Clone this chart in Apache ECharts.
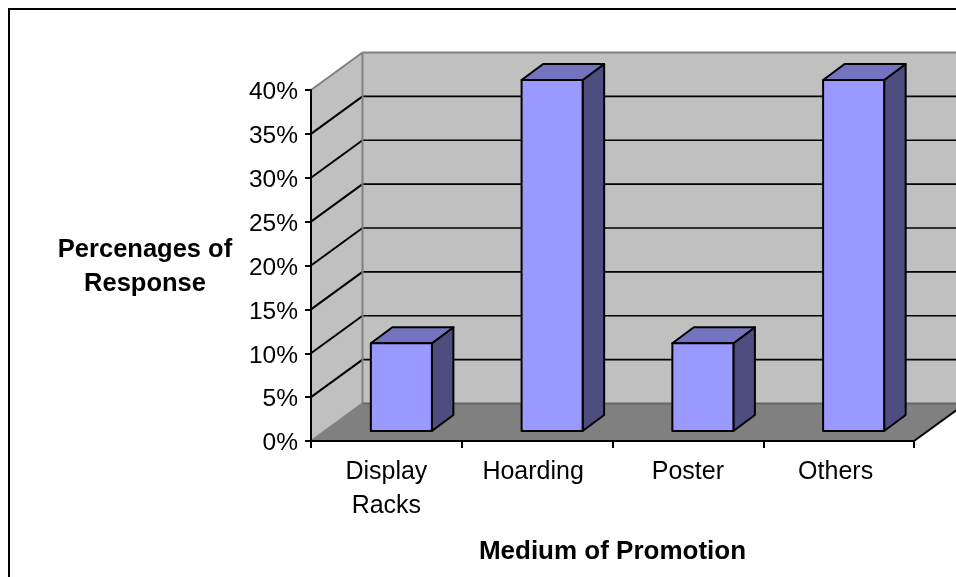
<!DOCTYPE html>
<html>
<head>
<meta charset="utf-8">
<style>html,body{margin:0;padding:0;background:#fff}#c{width:956px;height:577px}</style>
<script src="https://cdn.jsdelivr.net/npm/echarts@6/dist/echarts.min.js"></script>
</head>
<body>
<div id="c"></div>
<script>
const categories = ['Display Racks', 'Hoarding', 'Poster', 'Others'];
const responses = [10, 40, 10, 40];
const gridValues = [5, 10, 15, 20, 25, 30, 35];
const xTitle = 'Medium of Promotion';
const yTitle = 'Percenages of\nResponse';

const FONT = '"Liberation Sans", Arial, sans-serif';
const DX = 51.5, DY = -37.5;            // depth of the floor
const BAR_IN_X = 15, BAR_IN_Y = -10;    // bar front offset from the front plane
const BAR_DX = 21.5, BAR_DY = -16;      // bar depth
const BAR_W = 0.405;                    // share of band

const chart = echarts.init(document.getElementById('c'), null, { renderer: 'canvas' });

function renderRoom(params, api) {
  const cs = params.coordSys;
  const xL = cs.x, xR = cs.x + cs.width;
  const y0 = api.coord([0, 0])[1];
  const yT = api.coord([0, 40])[1];
  const poly = (pts, fill) => ({ type: 'polygon', shape: { points: pts }, style: { fill: fill, stroke: null }, silent: true });
  const line = (a, b, c, w) => ({ type: 'line', shape: { x1: a[0], y1: a[1], x2: b[0], y2: b[1] }, style: { stroke: c, lineWidth: w, fill: null }, silent: true });
  const kids = [
    poly([[xL + DX, yT + DY], [xR + DX, yT + DY], [xR + DX, y0 + DY], [xL + DX, y0 + DY]], '#C0C0C0'),
    poly([[xL, yT], [xL + DX, yT + DY], [xL + DX, y0 + DY], [xL, y0]], '#C0C0C0'),
    poly([[xL, y0], [xR, y0], [xR + DX, y0 + DY], [xL + DX, y0 + DY]], '#808080')
  ];
  gridValues.forEach(function (v) {
    const y = api.coord([0, v])[1];
    kids.push(line([xL, y], [xL + DX, y + DY], '#000', 2));
    kids.push(line([xL + DX, y + DY], [xR + DX, y + DY], '#000', 1.7));
  });
  kids.push(line([xL + DX, yT + DY], [xR + DX, yT + DY], '#808080', 2));
  kids.push(line([xL, yT], [xL + DX, yT + DY], '#808080', 2));
  kids.push(line([xL + DX, yT + DY], [xL + DX, y0 + DY], '#808080', 2));
  kids.push(line([xL, y0], [xL + DX, y0 + DY], '#808080', 2));
  kids.push(line([xL + DX, y0 + DY], [xR + DX, y0 + DY], '#666666', 2));
  kids.push(line([xR, y0], [xR + DX, y0 + DY], '#000', 2));
  return { type: 'group', children: kids };
}

function renderBar(params, api) {
  const c0 = api.coord([api.value(0), 0]);
  const cV = api.coord([api.value(0), api.value(1)]);
  const w = api.size([1, 0])[0] * BAR_W;
  const l = c0[0] + BAR_IN_X - w / 2, r = l + w;
  const b = c0[1] + BAR_IN_Y, t = cV[1] + BAR_IN_Y;
  const st = (fill) => ({ fill: fill, stroke: '#000', lineWidth: 2, lineJoin: 'round' });
  return {
    type: 'group',
    children: [
      { type: 'polygon', shape: { points: [[r, t], [r + BAR_DX, t + BAR_DY], [r + BAR_DX, b + BAR_DY], [r, b]] }, style: st('#4D4D80') },
      { type: 'polygon', shape: { points: [[l, t], [l + BAR_DX, t + BAR_DY], [r + BAR_DX, t + BAR_DY], [r, t]] }, style: st('#7373BF') },
      { type: 'rect', shape: { x: l, y: t, width: w, height: b - t }, style: st('#9999FF') }
    ]
  };
}

chart.setOption({
  animation: false,
  backgroundColor: '#fff',
  grid: { left: 311, top: 90, width: 603, height: 351, containLabel: false },
  graphic: [{
    type: 'rect', shape: { x: 9, y: 9, width: 2000, height: 2000 },
    style: { fill: null, stroke: '#000', lineWidth: 2 }, silent: true, z: 0
  }, {
    type: 'text', x: 145, y: 267, silent: true, z: 10,
    style: { text: yTitle, fill: '#000', font: 'bold 25.5px ' + FONT, lineHeight: 34, align: 'center', verticalAlign: 'middle' }
  }],
  xAxis: {
    type: 'category', data: categories, z: 5,
    axisLine: { lineStyle: { color: '#000', width: 2 } },
    axisTick: { show: true, length: 7, alignWithLabel: false, lineStyle: { color: '#000', width: 2 } },
    axisLabel: { color: '#000', fontFamily: FONT, fontSize: 25, margin: 14, lineHeight: 34, interval: 0,
      formatter: function (v) {
        if (v === 'Hoarding') return '{h|' + v + '}';
        if (v === 'Others') return '{o|' + v + '}';
        return v.replace(' ', '\n');
      },
      rich: {
        h: { fontFamily: FONT, fontSize: 25, lineHeight: 34, color: '#000', padding: [0, 8, 0, 0] },
        o: { fontFamily: FONT, fontSize: 25, lineHeight: 34, color: '#000', padding: [0, 6, 0, 0] }
      } },
    name: xTitle, nameLocation: 'middle', nameGap: 98,
    nameTextStyle: { color: '#000', fontFamily: FONT, fontSize: 26, fontWeight: 'bold' },
    splitLine: { show: false }
  },
  yAxis: {
    type: 'value', min: 0, max: 40, interval: 5, z: 5,
    axisLine: { show: true, lineStyle: { color: '#000', width: 2 } },
    axisTick: { show: true, length: 6, lineStyle: { color: '#000', width: 2 } },
    axisLabel: { color: '#000', fontFamily: FONT, fontSize: 24.5, margin: 13, verticalAlign: 'top', lineHeight: 5, formatter: '{value}%' },
    splitLine: { show: false }
  },
  series: [
    { type: 'custom', name: 'room', coordinateSystem: 'cartesian2d', clip: false, z: 1, silent: true,
      data: [[0, 0]], renderItem: renderRoom },
    { type: 'custom', name: 'Response', coordinateSystem: 'cartesian2d', clip: false, z: 6,
      data: responses.map(function (v, i) { return [i, v]; }),
      encode: { x: 0, y: 1 }, renderItem: renderBar }
  ]
});
</script>
</body>
</html>
